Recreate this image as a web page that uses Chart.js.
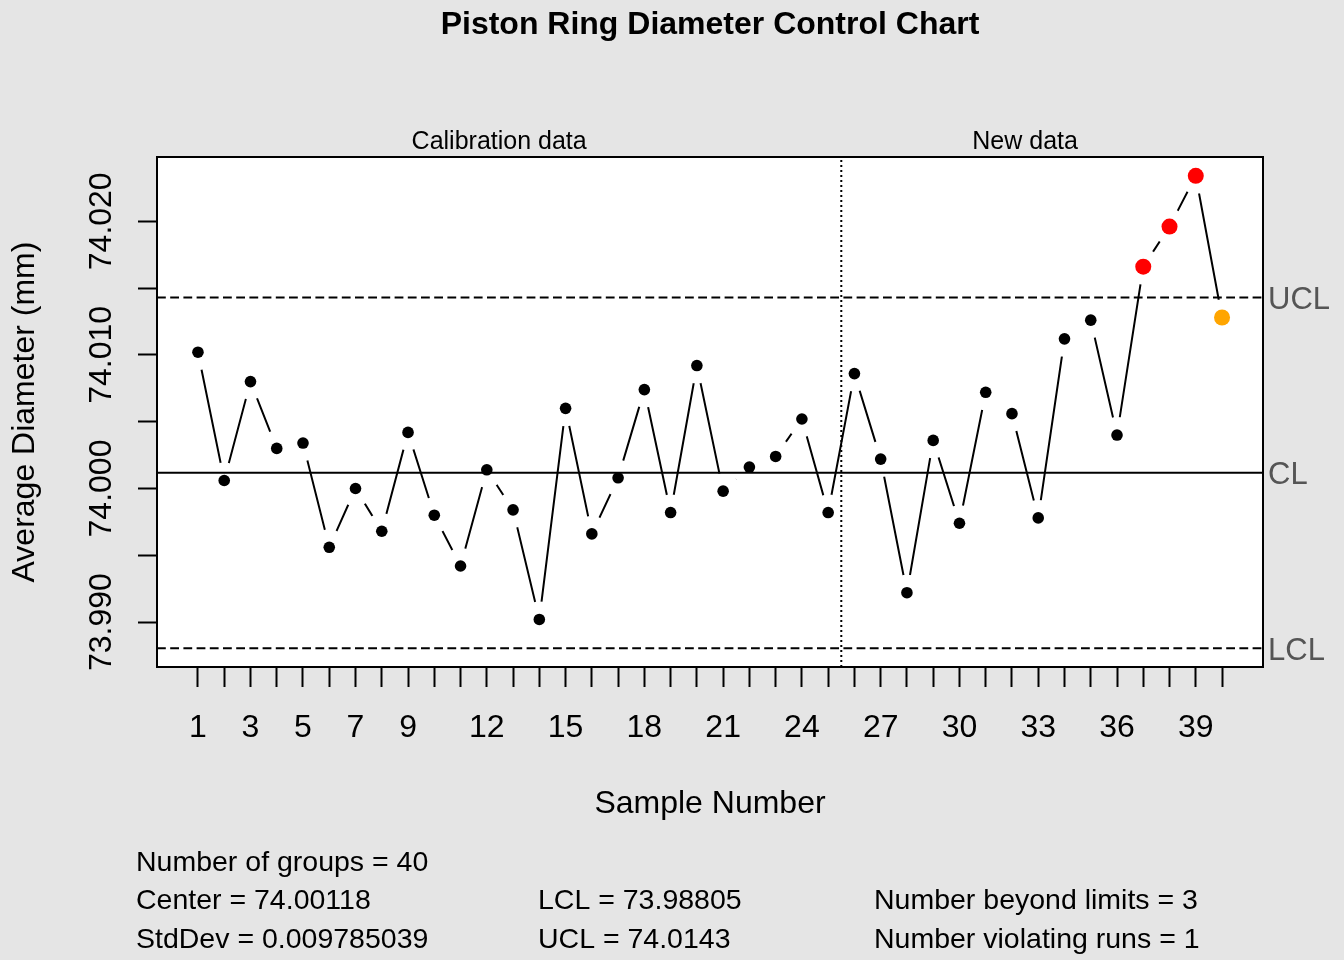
<!DOCTYPE html>
<html>
<head>
<meta charset="utf-8">
<title>Piston Ring Diameter Control Chart</title>
<script src="https://cdn.jsdelivr.net/npm/chart.js@4.4.1/dist/chart.umd.min.js"></script>
<style>
    html, body { margin: 0; padding: 0; background: #e5e5e5; }
    #wrap { width: 1344px; height: 960px; position: relative; }
</style>
</head>
<body>
<div id="wrap"><canvas id="xbar-chart"></canvas></div>
<script>
// X-bar control chart for piston ring diameters (qcc look)

const sampleNumbers = [1, 2, 3, 4, 5, 6, 7, 8, 9, 10, 11, 12, 13, 14, 15, 16, 17, 18, 19, 20,
    21, 22, 23, 24, 25, 26, 27, 28, 29, 30, 31, 32, 33, 34, 35, 36, 37, 38, 39, 40];
const groupMeans = [74.0102, 74.0006, 74.0080, 74.0030, 74.0034, 73.9956, 74.0000, 73.9968, 74.0042, 73.9980,
    73.9942, 74.0014, 73.9984, 73.9902, 74.0060, 73.9966, 74.0008, 74.0074, 73.9982, 74.0092,
    73.9998, 74.0016, 74.0024, 74.0052, 73.9982, 74.0086, 74.0022, 73.9922, 74.0036, 73.9974,
    74.0072, 74.0056, 73.9978, 74.0112, 74.0126, 74.0040, 74.0166, 74.0196, 74.0234, 74.0128];
const calibrationSize = 25;
const centerLine = 74.00118;
const lowerLimit = 73.98805;
const upperLimit = 74.0143;
const stdDev = 0.009785039;
const runViolations = [40];

const xTickLabels = [1, 3, 5, 7, 9, 12, 15, 18, 21, 24, 27, 30, 33, 36, 39];
const yTickValues = [73.990, 73.995, 74.000, 74.005, 74.010, 74.015, 74.020];
const yLabelValues = [73.990, 74.000, 74.010, 74.020];
const xRange = [-0.56, 41.56];
const yRange = [73.98664, 74.02481];

const FONT = "'Liberation Sans', Arial, sans-serif";

/**
 * Classify a sample: beyond limits, violating runs, or in control
 */
function pointStatus(i) {
    const v = groupMeans[i];
    if (v > upperLimit || v < lowerLimit) return 'out';
    if (runViolations.includes(sampleNumbers[i])) return 'run';
    return 'in';
}

const meanPoints = sampleNumbers.map((n, i) => ({ x: n, y: groupMeans[i] }));

function hLine(value) {
    return [{ x: xRange[0], y: value }, { x: xRange[1], y: value }];
}

// Backgrounds, plot box and all the margin text
const qccDecorations = {
    id: 'qccDecorations',
    beforeDraw(chart) {
        const { ctx, chartArea: a } = chart;
        ctx.save();
        ctx.fillStyle = '#e5e5e5';
        ctx.fillRect(0, 0, chart.width, chart.height);
        ctx.fillStyle = '#ffffff';
        ctx.fillRect(a.left, a.top, a.right - a.left, a.bottom - a.top);
        ctx.restore();
    },
    afterDatasetsDraw(chart) {
        const { ctx, chartArea: a } = chart;
        ctx.save();
        ctx.strokeStyle = '#000';
        ctx.lineWidth = 2;
        ctx.strokeRect(a.left, a.top, a.right - a.left, a.bottom - a.top);
        ctx.restore();
    },
    afterDraw(chart) {
        const { ctx, chartArea: a } = chart;
        const xs = chart.scales.x;
        const ys = chart.scales.y;
        ctx.save();

        // main title
        ctx.fillStyle = '#000';
        ctx.font = 'bold 32px ' + FONT;
        ctx.textAlign = 'center';
        ctx.textBaseline = 'alphabetic';
        ctx.fillText('Piston Ring Diameter Control Chart', (a.left + a.right) / 2, 34);

        // section labels above the plot
        ctx.font = '25px ' + FONT;
        ctx.fillText('Calibration data', xs.getPixelForValue((xRange[0] + calibrationSize + 0.5) / 2), 149);
        ctx.fillText('New data', xs.getPixelForValue((calibrationSize + sampleNumbers.length) / 2), 149);

        // rotated y tick labels
        ctx.font = '32px ' + FONT;
        yLabelValues.forEach(v => {
            ctx.save();
            ctx.translate(a.left - 46, ys.getPixelForValue(v));
            ctx.rotate(-Math.PI / 2);
            ctx.fillText(v.toFixed(3), 0, 0);
            ctx.restore();
        });

        // limit names on the right
        ctx.fillStyle = '#555555';
        ctx.textAlign = 'left';
        ctx.textBaseline = 'middle';
        ctx.font = '31px ' + FONT;
        ctx.fillText('UCL', a.right + 5, ys.getPixelForValue(upperLimit) + 3);
        ctx.fillText('CL', a.right + 5, ys.getPixelForValue(centerLine) + 3);
        ctx.fillText('LCL', a.right + 5, ys.getPixelForValue(lowerLimit) + 3);

        // summary statistics
        const beyond = groupMeans.filter((v, i) => pointStatus(i) === 'out').length;
        ctx.fillStyle = '#000';
        ctx.textBaseline = 'alphabetic';
        ctx.font = '28.5px ' + FONT;
        ctx.fillText('Number of groups = ' + sampleNumbers.length, 136, 871);
        ctx.fillText('Center = ' + centerLine, 136, 909);
        ctx.fillText('StdDev = ' + stdDev, 136, 948);
        ctx.fillText('LCL = ' + lowerLimit, 538, 909);
        ctx.fillText('UCL = ' + upperLimit, 538, 948);
        ctx.fillText('Number beyond limits = ' + beyond, 874, 909);
        ctx.fillText('Number violating runs = ' + runViolations.length, 874, 948);
        ctx.restore();
    }
};

Chart.defaults.font.family = FONT;

const ctx = document.getElementById('xbar-chart').getContext('2d');
const xbarChart = new Chart(ctx, {
    type: 'line',
    data: {
        datasets: [
            {
                // connecting line, drawn first
                data: meanPoints,
                borderColor: '#000',
                borderWidth: 2,
                pointRadius: 0,
                tension: 0,
                order: 4
            },
            {
                // white discs leave the gaps of type = "b"
                data: meanPoints,
                showLine: false,
                pointRadius: 18,
                pointBackgroundColor: '#ffffff',
                pointBorderWidth: 0,
                order: 3
            },
            {
                data: hLine(centerLine),
                borderColor: '#000',
                borderWidth: 2,
                pointRadius: 0,
                order: 2
            },
            {
                data: hLine(upperLimit),
                borderColor: '#000',
                borderWidth: 2,
                borderDash: [8.8, 4.4],
                pointRadius: 0,
                order: 2
            },
            {
                data: hLine(lowerLimit),
                borderColor: '#000',
                borderWidth: 2,
                borderDash: [8.8, 4.4],
                pointRadius: 0,
                order: 2
            },
            {
                // boundary between calibration and new data
                data: [{ x: calibrationSize + 0.5, y: yRange[0] }, { x: calibrationSize + 0.5, y: yRange[1] }],
                borderColor: '#000',
                borderWidth: 2,
                borderDash: [2, 3],
                pointRadius: 0,
                order: 2
            },
            {
                data: meanPoints,
                showLine: false,
                pointBorderWidth: 0,
                pointRadius: function(context) {
                    if (context.type !== 'data') return 5.8;
                    return pointStatus(context.dataIndex) === 'in' ? 5.8 : 8;
                },
                pointBackgroundColor: function(context) {
                    if (context.type !== 'data') return '#000';
                    const s = pointStatus(context.dataIndex);
                    return s === 'out' ? '#ff0000' : (s === 'run' ? '#ffa500' : '#000000');
                },
                order: 0
            }
        ]
    },
    options: {
        responsive: true,
        maintainAspectRatio: false,
        devicePixelRatio: 1,
        animation: false,
        events: [],
        layout: {
            padding: { top: 157, left: 0, right: 81, bottom: 0 }
        },
        plugins: {
            legend: { display: false },
            title: { display: false },
            tooltip: { enabled: false }
        },
        scales: {
            x: {
                type: 'linear',
                min: xRange[0],
                max: xRange[1],
                afterBuildTicks: function(scale) {
                    scale.ticks = sampleNumbers.map(v => ({ value: v }));
                },
                afterFit: function(scale) {
                    scale.height = 293;
                },
                grid: {
                    drawOnChartArea: false,
                    drawTicks: true,
                    tickLength: 20,
                    tickWidth: 2,
                    tickColor: '#000'
                },
                border: { display: false },
                ticks: {
                    autoSkip: false,
                    maxRotation: 0,
                    minRotation: 0,
                    padding: 22,
                    color: '#000',
                    font: { size: 32 },
                    callback: function(value) {
                        return xTickLabels.includes(value) ? String(value) : '';
                    }
                },
                title: {
                    display: true,
                    text: 'Sample Number',
                    color: '#000',
                    font: { size: 32 },
                    padding: { top: 0, bottom: 137 }
                }
            },
            y: {
                type: 'linear',
                min: yRange[0],
                max: yRange[1],
                afterBuildTicks: function(scale) {
                    scale.ticks = yTickValues.map(v => ({ value: v }));
                },
                afterFit: function(scale) {
                    scale.width = 157;
                },
                grid: {
                    drawOnChartArea: false,
                    drawTicks: true,
                    tickLength: 19,
                    tickWidth: 2,
                    tickColor: '#000'
                },
                border: { display: false },
                ticks: { display: false },
                title: {
                    display: true,
                    text: 'Average Diameter (mm)',
                    color: '#000',
                    font: { size: 32 },
                    padding: { top: 6, bottom: 0 }
                }
            }
        }
    },
    plugins: [qccDecorations]
});
</script>
</body>
</html>
